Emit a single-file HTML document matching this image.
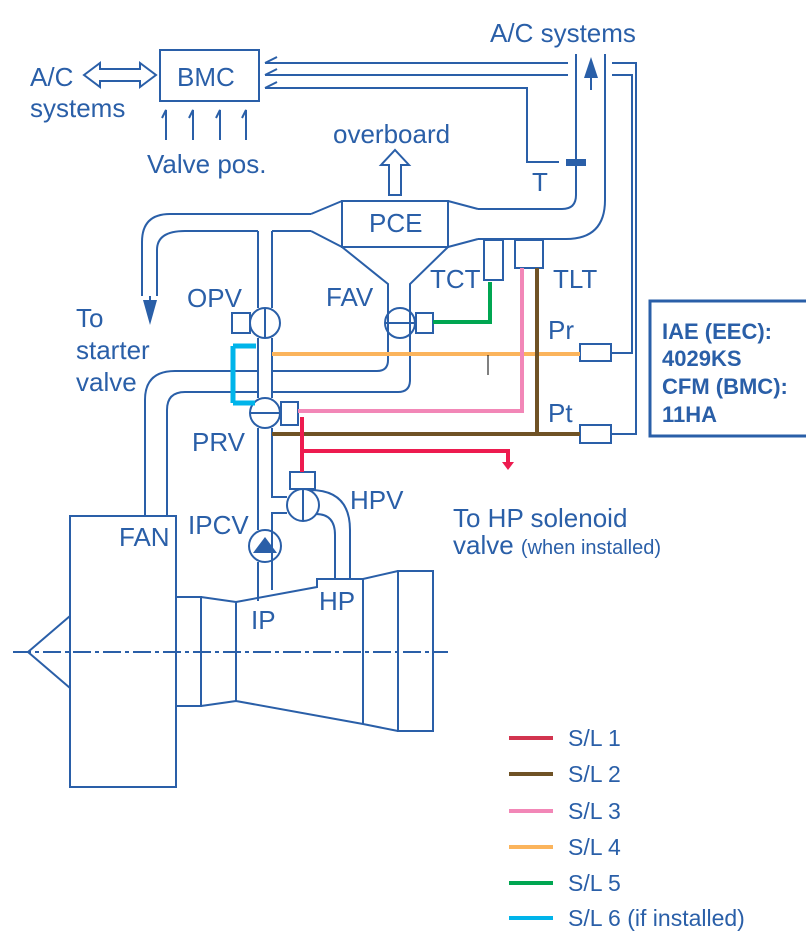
<!DOCTYPE html>
<html><head><meta charset="utf-8"><style>
html,body{margin:0;padding:0;background:#fff}
svg{display:block}
text{font-family:"Liberation Sans",sans-serif;fill:#2a5fa8}
</style></head><body>
<svg width="806" height="943" viewBox="0 0 806 943" xmlns="http://www.w3.org/2000/svg">
<g fill="none" stroke="#2a5fa8" stroke-width="2">
<rect x="160" y="50" width="99" height="51"/>
<path d="M84 75 L100 63 L100 69 L140 69 L140 63 L156 75 L140 87 L140 81 L100 81 L100 87 Z"/>
<path d="M166 140 V110 L162 118 M193 140 V110 L189 118 M220 140 V110 L216 118 M246 140 V110 L242 118"/>
<path d="M265 63 H568 M265 75 H568 M265 88 H527 V162 H559"/>
<path d="M265 63 L277 57 M265 75 L277 69 M265 88 L277 82"/>
<path d="M576 54 V195 Q576 209 562 209 H478"/>
<path d="M605 54 V200 Q605 239 566 239 H478"/>
<path d="M612 63 H636 V434 H612 M612 75 H632 V353 H612"/>
<rect x="342" y="201" width="106" height="46"/>
<path d="M311 214 L342 201 M311 231 L342 247 M448 201 L478 209 M448 247 L478 239"/>
<path d="M342 247 L388 284 V360 Q388 371 377 371 H272 M448 247 L410 284 V380 Q410 392 398 392 H272"/>
<path d="M258 371 H175 Q145 371 145 400 V516 M258 392 H185 Q167 392 167 410 V516"/>
<path d="M311 214 H170 Q142 214 142 242 V296 M311 231 H272 M258 231 H185 Q157 231 157 250 V296"/>
<path d="M258 231 V308 M272 231 V308 M258 338 V398 M272 338 V398 M258 428 V530 M272 428 V497 H287 M272 580 V513 H287 M258 562 V601"/>
<path d="M272 562 V590"/>
<circle cx="265" cy="323" r="15"/><path d="M265 308 V338"/>
<rect x="232" y="313" width="18" height="20"/>
<circle cx="400" cy="323" r="15"/><path d="M385 323 H415"/>
<rect x="416" y="313" width="17" height="20"/>
<circle cx="265" cy="413" r="15"/><path d="M250 413 H280"/>
<rect x="281" y="402" width="17" height="23"/>
<rect x="290" y="472" width="25" height="17"/>
<circle cx="303" cy="505" r="16"/><path d="M303 489 V521"/>
<path d="M310 490 Q350 490 350 530 V579 M316 514 Q335 514 335 535 V579"/>
<circle cx="265" cy="546" r="16"/>
<rect x="484" y="240" width="19" height="40"/>
<rect x="515" y="240" width="28" height="28"/>
<rect x="580" y="344" width="31" height="17"/>
<rect x="580" y="425" width="31" height="18"/>
<path d="M389 195 V165 H381 L395 150 L409 165 H401 V195 Z"/>
<rect x="70" y="516" width="106" height="271"/>
<path d="M70 616 L28 652 L70 688"/>
<rect x="176" y="597" width="25" height="109"/>
<path d="M201 597 L236 602 V701 L201 706 M236 602 L317 587 V579 H363 L398 571 M236 701 L363 724 L398 731 M363 579 V724"/>
<rect x="398" y="571" width="35" height="160"/>
</g>
<path d="M13 652 H448" stroke="#2a5fa8" stroke-width="2" stroke-dasharray="18,4,4,4"/>
<path d="M591 90 V70" stroke="#2a5fa8" stroke-width="2"/>
<path d="M584 78 L591 57 L598 78 Z" fill="#2a5fa8"/>
<path d="M143 300 L150 325 L157 300 Z" fill="#2a5fa8"/>
<path d="M150 296 V305" stroke="#2a5fa8" stroke-width="2"/>
<rect x="566" y="159" width="20" height="7" fill="#2a5fa8"/>
<path d="M253 553 L265 537 L277 553 Z" fill="#2a5fa8"/>
<g fill="none" stroke-width="4">
<path d="M433 322 H490 V282" stroke="#00a651"/>
<path d="M233 346 V403 M233 346 H256 M233 403 H255" stroke="#00b4ea" stroke-width="5"/>
<path d="M272 354 H580" stroke="#fbb45c"/>
<path d="M298 411 H522 V268" stroke="#f287b7"/>
<path d="M272 434 H580 M537 268 V434" stroke="#6f5225"/>
<path d="M302 417 V472 M302 451 H508 V463" stroke="#ed1b4f"/>
</g>
<path d="M502 462 L508 470 L514 462 Z" fill="#ed1b4f"/>
<path d="M488 355 V375" stroke="#000" stroke-width="1"/>
<rect x="650" y="301" width="160" height="135" fill="none" stroke="#2a5fa8" stroke-width="3"/>
<g font-size="22" font-weight="bold"><text x="662" y="339">IAE (EEC):</text><text x="662" y="366">4029KS</text><text x="662" y="394">CFM (BMC):</text><text x="662" y="422">11HA</text></g>
<g font-size="26">
<text x="177" y="86">BMC</text>
<text x="30" y="86">A/C</text><text x="30" y="117">systems</text>
<text x="147" y="173">Valve pos.</text>
<text x="490" y="42">A/C systems</text>
<text x="333" y="143">overboard</text>
<text x="369" y="232">PCE</text>
<text x="532" y="191">T</text>
<text x="187" y="307">OPV</text>
<text x="326" y="306">FAV</text>
<text x="430" y="288">TCT</text>
<text x="553" y="288">TLT</text>
<text x="548" y="339">Pr</text>
<text x="548" y="422">Pt</text>
<text x="76" y="327">To</text><text x="76" y="359">starter</text><text x="76" y="391">valve</text>
<text x="192" y="451">PRV</text>
<text x="350" y="509">HPV</text>
<text x="188" y="534">IPCV</text>
<text x="119" y="546">FAN</text>
<text x="251" y="629">IP</text>
<text x="319" y="610">HP</text>
<text x="453" y="527">To HP solenoid</text>
<text x="453" y="554">valve <tspan font-size="20">(when installed)</tspan></text>
</g>
<g font-size="23">
<text x="568" y="746">S/L 1</text>
<text x="568" y="782">S/L 2</text>
<text x="568" y="819">S/L 3</text>
<text x="568" y="855">S/L 4</text>
<text x="568" y="891">S/L 5</text>
<text x="568" y="926">S/L 6 (if installed)</text>
</g>
<g stroke-width="4">
<path d="M509 738 H553" stroke="#d2344f"/>
<path d="M509 774 H553" stroke="#6f5225"/>
<path d="M509 811 H553" stroke="#f287b7"/>
<path d="M509 847 H553" stroke="#fbb45c"/>
<path d="M509 883 H553" stroke="#00a651"/>
<path d="M509 918 H553" stroke="#00b4ea"/>
</g>
</svg>
</body></html>
